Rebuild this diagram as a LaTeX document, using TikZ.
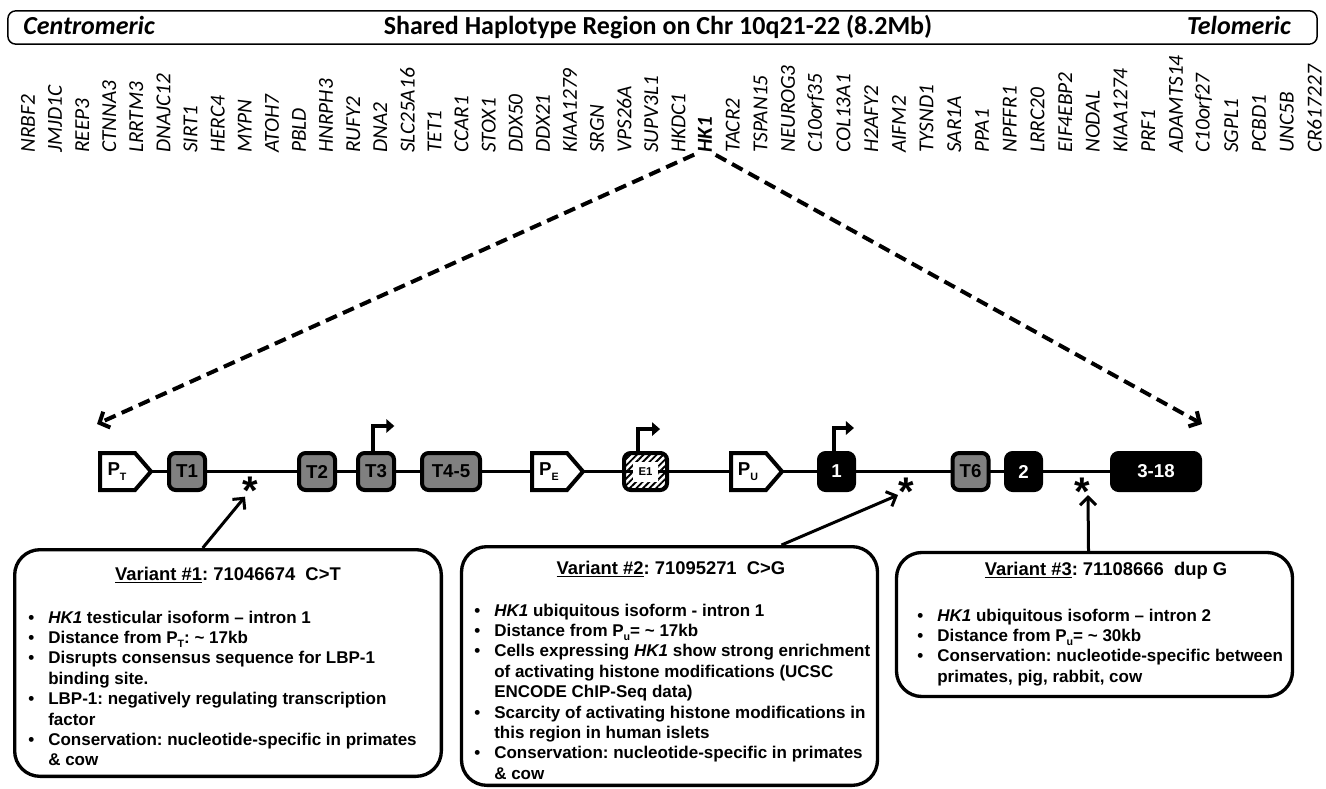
\documentclass[tikz,border=0pt]{standalone}
\usepackage{fontspec}
\setmainfont{Liberation Sans}
\newfontfamily\calibri{Carlito}
\usetikzlibrary{positioning,arrows.meta,patterns.meta,backgrounds}
\frenchspacing
\tikzset{hdrbox/.style={draw, rounded corners=6pt, line width=1.1pt, minimum width=982pt, minimum height=25pt, inner sep=0}}
\tikzset{hdrtxt/.style={inner sep=0, anchor=base, font=\fontsize{19.5}{22}\calibri\bfseries}}
\tikzset{hdrside/.style={hdrtxt, font=\fontsize{19.5}{22}\calibri\bfseries\itshape}}
\tikzset{gene/.style={rotate=90, anchor=west, inner sep=0, font=\fontsize{16}{18}\calibri\itshape}}
\tikzset{zoomarr/.style={draw, line width=3pt, dash pattern=on 9pt off 5pt, -{Straight Barb[length=6pt,width=13pt]}, shorten <=3pt}}
\tikzset{dna/.style={draw, line width=2.25pt}}
\tikzset{exon/.style={draw, line width=3pt, rounded corners=5pt, minimum height=27.75pt, minimum width=27pt, inner sep=0, font=\fontsize{14}{14}\selectfont\bfseries}}
\tikzset{texon/.style={exon, fill=gray}}
\tikzset{uexon/.style={exon, fill=black, text=white}}
\tikzset{eexon/.style={exon, pattern={Lines[angle=45,distance=3.5pt,line width=1.4pt]}}}
\tikzset{elabel/.style={fill=white, inner sep=0, minimum width=19pt, minimum height=15pt, font=\fontsize{8.5}{9}\selectfont\bfseries}}
\tikzset{prom/.style={draw, line width=3pt, fill=white}}
\tikzset{plabel/.style={inner sep=0, font=\fontsize{14}{14}\selectfont\bfseries}}
\tikzset{tss/.style={draw, line width=3pt, -{Triangle[length=6pt,width=10pt]}}}
\tikzset{snp/.style={inner sep=0, yshift=-6.5pt, font=\fontsize{30}{30}\selectfont\bfseries}}
\tikzset{pointer/.style={draw, line width=2.25pt, -{Straight Barb[length=6pt,width=12pt]}}}
\tikzset{varbox/.style={draw, line width=2.5pt, rounded corners=19pt, inner sep=0}}
\tikzset{vartitle/.style={inner sep=0, anchor=base, font=\fontsize{13.8}{16}\selectfont\bfseries}}
\tikzset{varlist/.style={inner sep=0, anchor=base west, font=\fontsize{12.75}{15.3}\selectfont\bfseries}}
\newcommand\bul{\makebox[15pt][l]{\textbullet}}
\newcommand\cnt{\hspace*{15pt}}
\newcommand\sub[1]{\raisebox{-0.5ex}{\fontsize{8}{8}\selectfont #1}}
\newcommand\promoter[3]{%
  \draw[prom] (#2,453) -- ++(35,0) -- ++(16,18.5) -- ++(-16,18.5) -- ++(-35,0) -- cycle;
  \node[plabel] (#1) at (#2+17,471.5) {P\sub{#3}};
  \coordinate (#1tip) at (#2+51,471.5);
}

\begin{document}
\begin{tikzpicture}[x=0.75pt, y=-0.75pt]
  \useasboundingbox (0,0) rectangle (1326,788);

  % header bar
  \node[hdrbox] (hdr) at (662.5,27.5) {};
  \node[hdrside, anchor=base west] (cen) at (23,35) {Centromeric};
  \node[hdrtxt] (ttl) at (658,35) {Shared Haplotype Region on Chr 10q21-22 (8.2Mb)};
  \node[hdrside, anchor=base east] (tel) at (1291,35) {Telomeric};

  \foreach \g [count=\i from 0] in {NRBF2,JMJD1C,REEP3,CTNNA3,LRRTM3,DNAJC12,SIRT1,HERC4,MYPN,ATOH7,PBLD,HNRPH3,RUFY2,DNA2,SLC25A16,TET1,CCAR1,STOX1,DDX50,DDX21,KIAA1279,SRGN,VPS26A,SUPV3L1,HKDC1}
    \node[gene] (g\i) at (28+\i*27.1,153) {\g};
  \node[gene, font=\fontsize{16}{18}\calibri\bfseries\itshape] (hk1) at (705,153) {HK1};
  \foreach \g [count=\i from 26] in {TACR2,TSPAN15,NEUROG3,C10orf35,COL13A1,H2AFY2,AIFM2,TYSND1,SAR1A,PPA1,NPFFR1,LRRC20,EIF4EBP2,NODAL,KIAA1274,PRF1,ADAMTS14,C10orf27,SGPL1,PCBD1,UNC5B,CR617227}
    \node[gene] (g\i) at (705+\i*27.7-25*27.7,153) {\g};

  \coordinate (lend) at (97,424);
  \coordinate (rend) at (1202,424);
  \draw[zoomarr] (hk1.north west) -- (lend);
  \draw[zoomarr] (hk1.south west) -- (rend);

  % gene model
  \promoter{pt}{100}{T}
  \node[texon] (t1) at (187,471.5) {T1};
  \node[texon] (t2) at (317,471.5) {T2};
  \node[texon] (t3) at (376,471.5) {T3};
  \node[texon, minimum width=43.5pt] (t45) at (451,471.5) {T4-5};
  \promoter{pe}{532}{E}
  \node[eexon, minimum width=32.25pt] (e1) at (645.5,471.5) {};
  \node[elabel] (e1lab) at (e1) {E1};
  \promoter{pu}{731}{U}
  \node[uexon, minimum width=26.25pt] (u1) at (836.5,471.5) {1};
  \node[texon] (t6) at (970.5,471.5) {T6};
  \node[uexon, minimum width=26.25pt] (u2) at (1023.5,471.5) {2};
  \node[uexon, minimum width=66pt] (u318) at (1156,471.5) {3-18};
  \begin{scope}[on background layer]
    \draw[dna] (pttip) -- (u318.west);
  \end{scope}

  \draw[tss] ([xshift=-2pt]t3.north) -- ++(0,-25) -- ++(21,0);
  \draw[tss] ([xshift=-5.6pt]e1.north) -- ++(0,-23) -- ++(22,0);
  \draw[tss] ([xshift=-1.9pt]u1.north) -- ++(0,-23) -- ++(20,0);

  \node[snp] (s1) at (250,482) {*};
  \node[snp] (s2) at (906,483) {*};
  \node[snp] (s3) at (1082,483) {*};

  % variant boxes
  \node[varbox, minimum width=320pt, minimum height=170pt] (var1) at (228,663) {};
  \node[varbox, minimum width=312pt, minimum height=179pt] (var2) at (669.5,666) {};
  \node[varbox, minimum width=297pt, minimum height=108pt] (var3) at (1094.5,624.5) {};

  \draw[pointer] ([xshift=-19pt]var1.north) -- ([xshift=-3.75pt,yshift=6pt]s1.south);
  \draw[pointer] ([xshift=84pt]var2.north) -- ([xshift=-6pt,yshift=8pt]s2.south);
  \draw[pointer] ([xshift=-4.5pt]var3.north) -- ([xshift=4.5pt,yshift=8pt]s3.south);

  \node[vartitle] (v1title) at (228,580) {\underline{Variant \#1}: 71046674\ \ C>T};
  \node[vartitle] (v2title) at (671,574) {\underline{Variant \#2}: 71095271\ \ C>G};
  \node[vartitle] (v3title) at (1106,575) {\underline{Variant \#3}: 71108666\ \ dup G};

  \node[varlist] (v1list) at (28,623) {\begin{tabular}[t]{@{}l@{}}
    \bul\textit{HK1} testicular isoform – intron 1\\
    \bul Distance from P\sub{T}: \textasciitilde{} 17kb\\
    \bul Disrupts consensus sequence for LBP-1\\
    \cnt binding site.\\
    \bul LBP-1: negatively regulating transcription\\
    \cnt factor\\
    \bul Conservation: nucleotide-specific in primates\\
    \cnt \& cow
  \end{tabular}};
  \node[varlist] (v2list) at (474,616) {\begin{tabular}[t]{@{}l@{}}
    \bul\textit{HK1} ubiquitous isoform - intron 1\\
    \bul Distance from P\sub{u}= \textasciitilde{} 17kb\\
    \bul Cells expressing \textit{HK1} show strong enrichment\\
    \cnt of activating histone modifications (UCSC\\
    \cnt ENCODE ChIP-Seq data)\\
    \bul Scarcity of activating histone modifications in\\
    \cnt this region in human islets\\
    \bul Conservation: nucleotide-specific in primates\\
    \cnt \& cow
  \end{tabular}};
  \node[varlist] (v3list) at (917,621) {\begin{tabular}[t]{@{}l@{}}
    \bul\textit{HK1} ubiquitous isoform – intron 2\\
    \bul Distance from P\sub{u}= \textasciitilde{} 30kb\\
    \bul Conservation: nucleotide-specific between\\
    \cnt primates, pig, rabbit, cow
  \end{tabular}};
\end{tikzpicture}
\end{document}
